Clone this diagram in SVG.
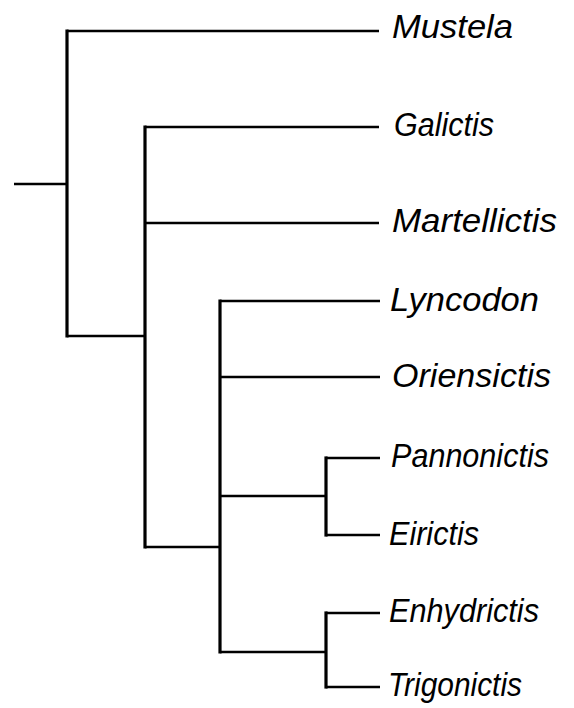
<svg xmlns="http://www.w3.org/2000/svg" width="574" height="708" viewBox="0 0 574 708">
<style>
.h{stroke:#000;stroke-width:2.4;fill:none}
.v{stroke:#000;stroke-width:3.2;fill:none;stroke-linecap:square}
.lbl{font-family:"Liberation Sans",Arial,sans-serif;font-style:italic;font-size:34px;fill:#000}
</style>
<rect width="574" height="708" fill="#fff"/>
<g id="connectors">
<path class="h" d="M14,184H67"/>
<path class="v" d="M67,31V336"/>
<path class="h" d="M67,31H379"/>
<path class="h" d="M67,336H145"/>
<path class="v" d="M145,127V547"/>
<path class="h" d="M145,127H379"/>
<path class="h" d="M145,223H379"/>
<path class="h" d="M145,547H220"/>
<path class="v" d="M220,301V652"/>
<path class="h" d="M220,301H380"/>
<path class="h" d="M220,377H380"/>
<path class="h" d="M220,496H326"/>
<path class="v" d="M326,458V535"/>
<path class="h" d="M326,458H380"/>
<path class="h" d="M326,535H380"/>
<path class="h" d="M220,652H326"/>
<path class="v" d="M326,613V687"/>
<path class="h" d="M326,613H380"/>
<path class="h" d="M326,687H380"/>
</g>
<g id="Mustela"><text class="lbl" x="392" y="38" textLength="121" lengthAdjust="spacingAndGlyphs">Mustela</text></g>
<g id="Galictis"><text class="lbl" x="394" y="136" textLength="100" lengthAdjust="spacingAndGlyphs">Galictis</text></g>
<g id="Martellictis"><text class="lbl" x="392" y="232" textLength="165" lengthAdjust="spacingAndGlyphs">Martellictis</text></g>
<g id="Lyncodon"><text class="lbl" x="390" y="311" textLength="149" lengthAdjust="spacingAndGlyphs">Lyncodon</text></g>
<g id="Oriensictis"><text class="lbl" x="392" y="387" textLength="159" lengthAdjust="spacingAndGlyphs">Oriensictis</text></g>
<g id="Pannonictis"><text class="lbl" x="391" y="467" textLength="158" lengthAdjust="spacingAndGlyphs">Pannonictis</text></g>
<g id="Eirictis"><text class="lbl" x="389" y="545" textLength="90" lengthAdjust="spacingAndGlyphs">Eirictis</text></g>
<g id="Enhydrictis"><text class="lbl" x="389" y="622" textLength="150" lengthAdjust="spacingAndGlyphs">Enhydrictis</text></g>
<g id="Trigonictis"><text class="lbl" x="388" y="696" textLength="134" lengthAdjust="spacingAndGlyphs">Trigonictis</text></g>
</svg>
